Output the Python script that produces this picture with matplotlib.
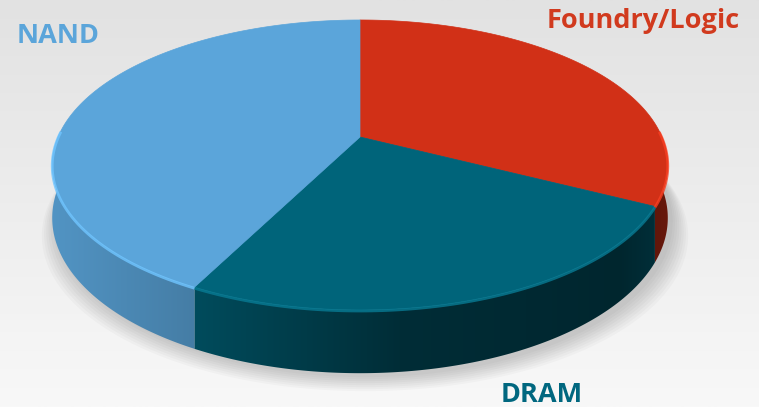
import numpy as np
import matplotlib.pyplot as plt
from matplotlib.colors import to_rgb, LinearSegmentedColormap
from matplotlib.patches import Polygon

# segment shares (%), clockwise from 12 o'clock
labels = ['Foundry/Logic', 'DRAM', 'NAND']
shares = [32.5, 25.0, 42.5]
top_colors = ['#D13017', '#00647A', '#5BA5DA']
label_colors = ['#D13A1E', '#00677F', '#5BA5DA']

W, H = 759, 407
fig = plt.figure(figsize=(W / 100, H / 100), dpi=100)
ax = fig.add_axes([0, 0, 1, 1])
ax.set_xlim(0, W)
ax.set_ylim(H, 0)
ax.axis('off')

# background gradient
bg = LinearSegmentedColormap.from_list('bg', ['#e2e2e2', '#f8f8f8'])
ax.imshow(np.linspace(0, 1, 256).reshape(-1, 1), cmap=bg, aspect='auto',
          extent=[0, W, H, 0], zorder=0)

# simple perspective projection of a flat disc
cx, cy = 360, 137
sx, sy, k, thick = 302, 139.6, 0.193, 51


def project(t, z=0.0):
    X, Y = np.cos(t), np.sin(t)
    w = 1 + k * Y
    return cx + sx * X / w, cy - (sy * Y + thick * z) / w


def shade(x):
    return np.interp(x, [50, 193, 300, 400, 620, 670],
                     [0.9, 0.76, 0.6, 0.45, 0.38, 0.5])


total = sum(shares)
bounds = 90 - 360 * np.concatenate([[0], np.cumsum(shares)]) / total

# soft shadow under the pie
tt = np.radians(np.linspace(0, 360, 200))
for i, g in enumerate(np.linspace(1.0, 1.05, 8)):
    bx, by = project(tt, -1)
    ax.fill(cx + 5 + (bx - cx) * g, by + 4 + 2 * i, color='black', alpha=0.022,
            lw=0, zorder=1)

# side faces: horizontal gradient clipped to each slice's front wall
xs = np.arange(W) + 0.5
for a0, a1, col in zip(bounds[:-1], bounds[1:], top_colors):
    ts = np.radians(np.linspace(a0, a1, 200))
    ts = ts[np.sin(ts) < 0.02]
    if len(ts) < 2:
        continue
    x0, y0 = project(ts, 0)
    x1, y1 = project(ts, -1)
    wall = Polygon(np.c_[np.r_[x0, x1[::-1]], np.r_[y0, y1[::-1]]],
                   closed=True, fc='none', ec='none')
    ax.add_patch(wall)
    grad = np.clip(np.outer(shade(xs), to_rgb(col)), 0, 1)[None, :, :]
    im = ax.imshow(grad, aspect='auto', extent=[0, W, H, 0], zorder=2,
                   interpolation='bilinear')
    im.set_clip_path(wall)

# top faces
for a0, a1, col in zip(bounds[:-1], bounds[1:], top_colors):
    ts = np.radians(np.linspace(a0, a1, 120))
    px, py = project(ts, 0)
    ax.fill(np.r_[cx, px], np.r_[cy, py], color=col, lw=0.5, ec=col, zorder=3)
    # light bevel on the front rim
    front = ts[np.sin(ts) < 0.05]
    if len(front):
        fx, fy = project(front, 0)
        rim = np.clip(np.array(to_rgb(col)) * 1.15 + 0.03, 0, 1)
        ax.plot(fx, fy + 1, color=rim, lw=2, alpha=0.8, zorder=4,
                solid_capstyle='butt')

# labels
font = dict(family='Open Sans', weight='bold', fontsize=19.5)
ax.text(17, 43, labels[2], color=label_colors[2], ha='left', va='baseline', **font)
ax.text(547, 28, labels[0], color=label_colors[0], ha='left', va='baseline', **font)
ax.text(501, 402, labels[1], color=label_colors[1], ha='left', va='baseline', **font)

fig.savefig('out.png', dpi=100)
